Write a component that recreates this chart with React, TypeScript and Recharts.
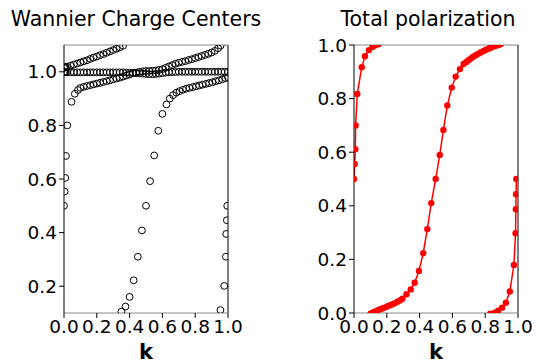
import React from "react";
import {
  ScatterChart,
  Scatter,
  LineChart,
  Line,
  XAxis,
  YAxis,
  ReferenceLine,
} from "recharts";

// k ticks shared by both panels
const kTicks = [0, 0.2, 0.4, 0.6, 0.8, 1.0];
const wccTicks = [0.2, 0.4, 0.6, 0.8, 1.0];
const polTicks = [0, 0.2, 0.4, 0.6, 0.8, 1.0];

// Wannier charge centers, one list of [k, wcc] per band
const bandUpper: [number, number][] = [
  [0, 1.015], [0.004, 1.016], [0.008, 1.017], [0.012, 1.017], [0.02, 1.019],
  [0.04, 1.023], [0.06, 1.027], [0.08, 1.031], [0.1, 1.035], [0.12, 1.039],
  [0.14, 1.043], [0.16, 1.048], [0.18, 1.053], [0.2, 1.057], [0.22, 1.062],
  [0.24, 1.066], [0.26, 1.071], [0.28, 1.076], [0.3, 1.081], [0.32, 1.086],
  [0.34, 1.091], [0.36, 1.097],
];

const bandFlat: [number, number][] = [
  [0, 0.999], [0.004, 0.999], [0.008, 0.999], [0.012, 0.998], [0.02, 0.998],
  [0.04, 0.998], [0.06, 0.998], [0.08, 0.998], [0.1, 0.998], [0.12, 0.998],
  [0.14, 0.998], [0.16, 0.998], [0.18, 0.998], [0.2, 0.998], [0.22, 0.998],
  [0.24, 0.998], [0.26, 0.998], [0.28, 0.998], [0.3, 0.998], [0.32, 0.998],
  [0.34, 0.998], [0.36, 0.998], [0.38, 0.997], [0.4, 0.997], [0.42, 0.996],
  [0.44, 0.995], [0.46, 0.994], [0.48, 0.993], [0.5, 0.992], [0.52, 0.991],
  [0.54, 0.991], [0.56, 0.992], [0.58, 0.993], [0.6, 0.995], [0.62, 0.997],
  [0.64, 0.998], [0.66, 0.999], [0.68, 0.999], [0.7, 1.0], [0.72, 1.0],
  [0.74, 1.0], [0.76, 1.0], [0.78, 1.0], [0.8, 1.0], [0.82, 1.0],
  [0.84, 1.0], [0.86, 1.0], [0.88, 1.0], [0.9, 1.0], [0.92, 1.0],
  [0.94, 1.0], [0.96, 1.0], [0.98, 1.0], [1.0, 1.0],
];

const bandRising: [number, number][] = [
  [0, 0.5], [0.004, 0.553], [0.008, 0.604], [0.012, 0.686], [0.02, 0.8],
  [0.046, 0.888], [0.066, 0.918], [0.085, 0.932], [0.1, 0.94], [0.12, 0.944],
  [0.14, 0.947], [0.16, 0.95], [0.18, 0.953], [0.2, 0.956], [0.22, 0.959],
  [0.24, 0.962], [0.26, 0.965], [0.28, 0.968], [0.3, 0.972], [0.32, 0.975],
  [0.34, 0.978], [0.36, 0.982], [0.38, 0.986], [0.4, 0.99], [0.42, 0.994],
  [0.44, 0.997], [0.46, 1.0], [0.48, 1.002], [0.5, 1.003], [0.52, 1.003],
  [0.54, 1.004], [0.56, 1.005], [0.58, 1.007], [0.6, 1.01], [0.62, 1.015],
  [0.64, 1.02], [0.66, 1.025], [0.68, 1.03], [0.7, 1.034], [0.72, 1.037],
  [0.74, 1.04], [0.76, 1.044], [0.78, 1.047], [0.8, 1.051], [0.82, 1.055],
  [0.84, 1.059], [0.86, 1.063], [0.88, 1.067], [0.9, 1.072], [0.92, 1.078],
  [0.94, 1.088], [0.955, 1.098],
];

const bandSteep: [number, number][] = [
  [0.35, 0.105], [0.375, 0.124], [0.4, 0.16], [0.425, 0.222], [0.45, 0.31],
  [0.475, 0.408], [0.5, 0.5], [0.525, 0.592], [0.55, 0.688], [0.575, 0.78],
  [0.6, 0.843], [0.625, 0.878], [0.645, 0.9], [0.665, 0.913], [0.685, 0.922],
  [0.705, 0.928], [0.725, 0.933], [0.745, 0.937], [0.765, 0.94], [0.785, 0.943],
  [0.805, 0.946], [0.825, 0.949], [0.845, 0.952], [0.865, 0.955], [0.885, 0.958],
  [0.905, 0.961], [0.925, 0.965], [0.945, 0.968], [0.965, 0.972], [0.985, 0.976],
  [1.0, 0.98],
];

const bandEdge: [number, number][] = [
  [0.954, 0.111], [0.977, 0.201], [0.987, 0.31], [0.989, 0.395],
  [0.993, 0.446], [0.995, 0.5],
];

// total polarization, split where it wraps around 0/1
const polFirst: [number, number][] = [
  [0, 0.5], [0.004, 0.556], [0.008, 0.611], [0.01, 0.7], [0.02, 0.817],
  [0.047, 0.917], [0.067, 0.958], [0.091, 0.981], [0.112, 0.993],
  [0.13, 0.999], [0.15, 1.003],
];

const polMiddle: [number, number][] = [
  [0.1, -0.003], [0.115, 0.002], [0.13, 0.006], [0.145, 0.01], [0.16, 0.014],
  [0.175, 0.018], [0.19, 0.021], [0.205, 0.025], [0.22, 0.029], [0.235, 0.033],
  [0.25, 0.037], [0.265, 0.042], [0.28, 0.047], [0.295, 0.053], [0.32, 0.07],
  [0.346, 0.088], [0.37, 0.113], [0.396, 0.157], [0.422, 0.223], [0.447, 0.313],
  [0.471, 0.41], [0.498, 0.5], [0.523, 0.59], [0.545, 0.683], [0.569, 0.774],
  [0.596, 0.841], [0.62, 0.882], [0.646, 0.91], [0.668, 0.929], [0.685, 0.937],
  [0.7, 0.944], [0.715, 0.951], [0.73, 0.957], [0.745, 0.963], [0.76, 0.968],
  [0.775, 0.973], [0.79, 0.978], [0.805, 0.982], [0.82, 0.986], [0.835, 0.99],
  [0.85, 0.994], [0.865, 0.997], [0.88, 1.0], [0.895, 1.003],
];

const polLast: [number, number][] = [
  [0.83, -0.003], [0.859, 0.001], [0.879, 0.009], [0.903, 0.02], [0.926, 0.038],
  [0.95, 0.08], [0.975, 0.179], [0.985, 0.298], [0.987, 0.387], [0.988, 0.443],
  [0.99, 0.5],
];

const toPts = (arr: [number, number][]) => arr.map(([k, v]) => ({ k, v }));

const FONT = "DejaVu Sans, sans-serif";
const tickStyle = { fontSize: 18.5, fill: "#000", fontFamily: FONT };
const kLabel = {
  value: "k",
  position: "insideBottom",
  offset: 5,
  style: { fontSize: 21, fontWeight: "bold", fill: "#000", fontFamily: FONT },
};
const fmt = (v: number) => v.toFixed(1);

const OpenCircle = (p: any) => (
  <circle cx={p.cx} cy={p.cy} r={3.4} fill="none" stroke="#000" strokeWidth={1} />
);

function WccPanel() {
  const bands = [bandUpper, bandFlat, bandRising, bandSteep, bandEdge];
  return (
    <ScatterChart width={262} height={364} margin={{ top: 45, right: 34, bottom: 0, left: 0 }}>
      <XAxis
        type="number"
        dataKey="k"
        domain={[0, 1]}
        ticks={kTicks}
        tickFormatter={fmt}
        allowDataOverflow
        interval={0}
        height={51}
        tickSize={5}
        tick={tickStyle}
        tickLine={{ stroke: "#000" }}
        axisLine={{ stroke: "#888" }}
        label={kLabel}
      />
      <YAxis
        type="number"
        dataKey="v"
        domain={[0.1, 1.1]}
        ticks={wccTicks}
        tickFormatter={fmt}
        allowDataOverflow
        interval={0}
        width={64}
        tickSize={5}
        tick={tickStyle}
        tickLine={{ stroke: "#000" }}
        axisLine={{ stroke: "#000" }}
      />
      <ReferenceLine y={1.1} stroke="#888" />
      <ReferenceLine x={1} stroke="#000" />
      {bands.map((b, i) => (
        <Scatter key={i} data={toPts(b)} shape={OpenCircle} isAnimationActive={false} />
      ))}
    </ScatterChart>
  );
}

function PolPanel() {
  const segs = [polFirst, polMiddle, polLast];
  return (
    <LineChart width={254} height={364} margin={{ top: 45, right: 26, bottom: 0, left: 0 }}>
      <XAxis
        type="number"
        dataKey="k"
        domain={[0, 1]}
        ticks={kTicks}
        tickFormatter={fmt}
        allowDataOverflow
        interval={0}
        height={51}
        tickSize={5}
        tick={tickStyle}
        tickLine={{ stroke: "#000" }}
        axisLine={{ stroke: "#888" }}
        label={kLabel}
      />
      <YAxis
        type="number"
        dataKey="v"
        domain={[0, 1]}
        ticks={polTicks}
        tickFormatter={fmt}
        allowDataOverflow
        interval={0}
        width={64}
        tickSize={5}
        tick={tickStyle}
        tickLine={{ stroke: "#000" }}
        axisLine={{ stroke: "#000" }}
      />
      <ReferenceLine y={1} stroke="#888" />
      <ReferenceLine x={1} stroke="#000" />
      {segs.map((s, i) => (
        <Line
          key={i}
          data={toPts(s)}
          dataKey="v"
          stroke="#ff0000"
          strokeWidth={1.5}
          dot={{ r: 3.2, fill: "#ff0000", stroke: "#ff0000", strokeWidth: 0 }}
          isAnimationActive={false}
        />
      ))}
    </LineChart>
  );
}

export default function App() {
  return (
    <div style={{ position: "fixed", left: 0, top: 0, width: 544, height: 364, background: "#fff" }}>
      <div style={{ position: "absolute", left: 0, top: 0 }}>
        <WccPanel />
      </div>
      <div style={{ position: "absolute", left: 290, top: 0 }}>
        <PolPanel />
      </div>
      <svg width={544} height={40} style={{ position: "absolute", left: 0, top: 0 }}>
        <text x={136} y={26} textAnchor="middle" fontSize={20.5} fontFamily={FONT} fill="#000">
          Wannier Charge Centers
        </text>
        <text x={428} y={26} textAnchor="middle" fontSize={20.5} fontFamily={FONT} fill="#000">
          Total polarization
        </text>
      </svg>
    </div>
  );
}
